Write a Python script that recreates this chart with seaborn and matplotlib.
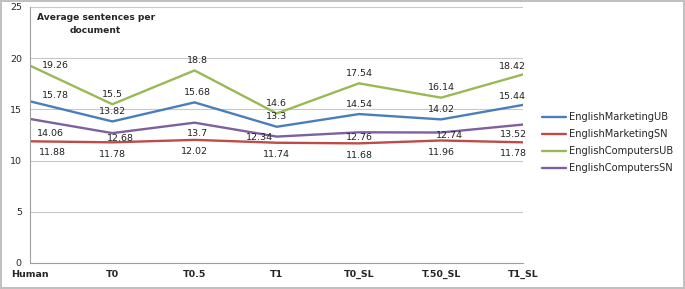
import seaborn as sns
import matplotlib.pyplot as plt
import pandas as pd

# data
conditions = ['Human', 'T0', 'T0.5', 'T1', 'T0_SL', 'T.50_SL', 'T1_SL']
marketing_ub = [15.78, 13.82, 15.68, 13.3, 14.54, 14.02, 15.44]
marketing_sn = [11.88, 11.78, 12.02, 11.74, 11.68, 11.96, 11.78]
computers_ub = [19.26, 15.5, 18.8, 14.6, 17.54, 16.14, 18.42]
computers_sn = [14.06, 12.68, 13.7, 12.34, 12.76, 12.74, 13.52]

series = {
    'EnglishMarketingUB': marketing_ub,
    'EnglishMarketingSN': marketing_sn,
    'EnglishComputersUB': computers_ub,
    'EnglishComputersSN': computers_sn,
}
colors = ['#4A7EBB', '#BE4B48', '#98B954', '#7D60A0']

# data label offsets in pixels (dx, dy up), like the hand-placed Excel labels
above = [(25, 2), (0, 10), (3, 10), (0, 10), (0, 10), (0, 10), (-11, 8)]
label_offsets = {
    'EnglishMarketingUB': [(25, 6)] + above[1:],
    'EnglishMarketingSN': [(22, -11), (0, -12), (0, -12), (0, -12),
                           (0, -12), (0, -12), (-10, -11)],
    'EnglishComputersUB': [(25, 0)] + above[1:],
    'EnglishComputersSN': [(20, -15), (8, -5), (3, -11), (-17, -1),
                           (0, -5), (8, -3), (-10, -10)],
}

rows = []
for name, vals in series.items():
    for c, v in zip(conditions, vals):
        rows.append({'condition': c, 'value': v, 'series': name})
df = pd.DataFrame(rows)

sns.set_style('white')
plt.rcParams['font.family'] = ['DejaVu Sans']

fig = plt.figure(figsize=(6.85, 2.89), dpi=100)
ax = fig.add_axes([0.044, 0.09, 0.72, 0.886])

sns.lineplot(data=df, x='condition', y='value', hue='series',
             palette=colors, linewidth=1.7, ax=ax, sort=False)

px = 72 / 100  # pixels -> points
for name, vals in series.items():
    for i, v in enumerate(vals):
        dx, dy = label_offsets[name][i]
        ax.annotate(f'{v:g}', (i, v), xytext=(dx * px, dy * px),
                    textcoords='offset points', ha='center', va='center',
                    fontsize=6.8, color='#222222')

ax.set_xlim(0, len(conditions) - 1)
ax.set_ylim(0, 25)
ax.set_yticks([0, 5, 10, 15, 20, 25])
ax.yaxis.grid(True, color='#c8c8c8', linewidth=0.8)
ax.set_axisbelow(True)
for s in ['top', 'right']:
    ax.spines[s].set_visible(False)
ax.spines['left'].set_color('#a0a0a0')
ax.spines['bottom'].set_color('#a0a0a0')
ax.tick_params(axis='y', length=3, color='#a0a0a0', labelsize=6.8, pad=3)
ax.tick_params(axis='x', length=3, color='#a0a0a0', labelsize=6.8, pad=2)
for t in ax.get_xticklabels():
    t.set_fontweight('bold')
ax.set_xlabel('')
ax.set_ylabel('')

ax.text(0.013, 0.975, 'Average sentences per\ndocument', transform=ax.transAxes,
        fontsize=6.6, fontweight='bold', va='top', ha='left',
        multialignment='center', linespacing=1.5)

handles, labels = ax.get_legend_handles_labels()
ax.legend(handles, labels, loc='center left', bbox_to_anchor=(1.02, 0.47),
          frameon=False, fontsize=7.1, handlelength=2.4, handletextpad=0.3,
          labelspacing=0.7)

fig.patch.set_edgecolor('#c0c0c0')
fig.patch.set_linewidth(1.5)

fig.savefig('out.png', dpi=100, edgecolor=fig.get_edgecolor())
